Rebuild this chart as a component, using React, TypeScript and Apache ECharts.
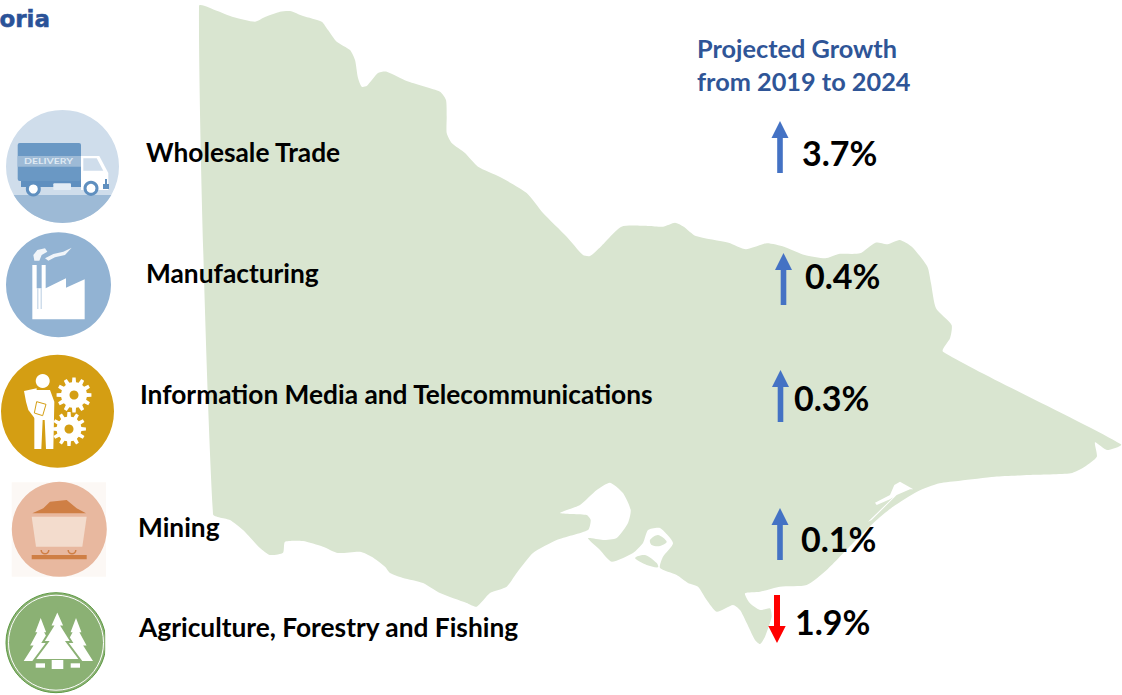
import React, { useEffect, useRef } from "react";
import * as echarts from "echarts";

const categories = [
  "Wholesale Trade",
  "Manufacturing",
  "Information Media and Telecommunications",
  "Mining",
  "Agriculture, Forestry and Fishing",
];
const growthValues = [3.7, 0.4, 0.3, 0.1, -1.9];
const titleLines = ["Projected Growth", "from 2019 to 2024"];
const clippedHeading = "oria";

// layout (not data)
const labelX = [146, 146, 140, 138, 139];
const labelY = [152, 273, 394, 527, 627];
const arrowX = [780, 783.5, 780.5, 780, 777];
const arrowTop = [121, 253, 370, 508, 595];
const arrowBottom = [173, 305, 422, 560, 643];
const valueX = [802, 805, 794, 801, 795];
const valueY = [152, 275, 397, 538, 621];

const FONT = "Lato, 'Noto Sans', sans-serif";
const MAP = "#d9e5d0";

const mapOutline: number[][] = [
  [199, 6], [216.7, 10.7], [233, 17], [255, 21.7], [265, 17], [280, 11.7], [290, 11], [303, 16], [321.7, 21.7],
  [328, 30], [336.7, 41.7], [350, 50], [355, 60], [358, 78], [361.7, 86.7], [366.7, 86], [378, 73], [386.7, 71.7],
  [406.7, 81], [440, 91.7], [446, 100], [446.7, 116.7], [446.7, 133], [451.7, 143], [465, 153], [478, 166.7],
  [500, 177], [526.7, 193], [543, 213], [566.7, 236.7], [583, 255], [590, 256], [600.7, 246.7], [621.5, 226.7],
  [649, 226], [663, 226.7], [675, 222.7], [683.7, 226.7], [695.8, 236], [728.6, 242.7], [746, 249.3], [766.7, 243.3],
  [784, 246.7], [804.7, 255], [825.4, 258.3], [839, 254], [860, 253.3], [875.5, 242.7], [887.6, 244.3], [899.7, 240],
  [911.8, 246.7], [927.4, 266.7], [931, 283.3], [936, 308.3], [951.6, 325], [950, 338.3], [943, 351.7], [1121, 444.3],
  [1107, 450], [1095, 442.3], [1096.8, 456.7], [1084.7, 466.7], [1070.8, 473.3], [1029, 475], [994.8, 476.7],
  [960, 480.7], [939.5, 483.3], [917, 491.7], [893, 506.7], [876.7, 520], [853, 543], [826.7, 570], [806.7, 585],
  [780, 586.7], [760, 591.7], [745, 593.3], [750, 603.3], [760, 610], [770, 608.3], [771.7, 616.7], [765, 636.7],
  [760, 644], [755, 640], [746.7, 623], [740, 610], [733, 605], [716.7, 611.7], [706.7, 600], [698, 586.7], [688, 583],
  [676.7, 575], [660, 568], [663, 556.7], [673, 543], [660, 528], [648, 530], [643, 543], [633, 553], [611.7, 561.7],
  [600, 550], [588, 538.3], [603, 540], [616.7, 538], [628, 523], [630.7, 510], [623, 493], [610, 482.7], [596.7, 490],
  [580, 505], [560, 513], [586.7, 515], [590.7, 520], [588, 530], [556.7, 540], [533, 553], [516.7, 573], [506.7, 586.7],
  [490, 593], [476.7, 606.7], [466.7, 603], [440, 593], [423, 583], [403, 578], [390, 573], [385, 566.7], [371.7, 556.7],
  [360, 551.7], [338, 553], [323, 546.7], [303, 541], [285, 541.7], [283, 552.7], [270, 555], [260, 548], [243, 530],
  [230, 520], [213, 514],
];
const frenchIsland = [[650, 540], [658, 535], [666.7, 541.7], [660, 546], [651.7, 545]];
const phillipIsland = [[635, 558], [645, 555], [656.7, 563], [658, 567.3], [646.7, 565]];
const gippslandLakes = [
  [913.3, 489.3], [900, 481.7], [894.3, 485], [890, 495], [875, 502.7], [876.7, 505], [890, 499.3], [893.3, 497.3],
  [868, 521.7], [871.7, 520], [896.7, 495], [910, 489.3],
];

const poly = (pts: number[][], fill: string, extra: any = {}, smooth = 0) => ({
  type: "polygon",
  silent: true,
  shape: { points: pts, smooth },
  style: { fill, ...extra },
});
// zoomed-crop coordinates (3x) to page coordinates
const Z = (pts: number[][], oy = 0) => pts.map(([x, y]) => [x / 3, y / 3 + oy]);
const circle = (cx: number, cy: number, r: number, fill: string, extra: any = {}) => ({
  type: "circle",
  silent: true,
  shape: { cx, cy, r },
  style: { fill, ...extra },
});
const rect = (x: number, y: number, w: number, h: number, fill: string, r = 0) => ({
  type: "rect",
  silent: true,
  shape: { x, y, width: w, height: h, r },
  style: { fill },
});
const chordBelow = (cx: number, cy: number, r: number, yCut: number) => {
  const a0 = Math.asin((yCut - cy) / r);
  const pts: number[][] = [];
  for (let i = 0; i <= 40; i++) {
    const a = a0 + ((Math.PI - 2 * a0) * i) / 40;
    pts.push([cx + r * Math.cos(a), cy + r * Math.sin(a)]);
  }
  return pts;
};
const gear = (cx: number, cy: number, rOut: number, rIn: number, teeth: number) => {
  const pts: number[][] = [];
  for (let i = 0; i < teeth; i++) {
    const s = (Math.PI * 2) / teeth;
    const a = i * s;
    [[-0.3, rIn], [-0.18, rOut], [0.18, rOut], [0.3, rIn]].forEach(([f, r]) => {
      pts.push([cx + r * Math.cos(a + f * s), cy + r * Math.sin(a + f * s)]);
    });
  }
  return pts;
};

const truckIcon = () => [
  circle(62.5, 166.4, 56.5, "#cfddeb"),
  poly(chordBelow(62.5, 166.4, 56.5, 195), "#9dbad6"),
  rect(21, 178, 60, 9, "#5f8fbf"),
  rect(17.7, 143, 63.3, 38, "#6a98c4", 2),
  rect(17.7, 156, 63.3, 10.7, "#9dbad6"),
  {
    type: "text",
    silent: true,
    x: 24,
    y: 161.5,
    scaleX: 1.5,
    style: { text: "DELIVERY", fill: "#dfe9f3", font: `bold 7px ${FONT}`, verticalAlign: "middle", align: "left" },
  },
  poly([[81, 156], [99.3, 156], [108.3, 173], [108.3, 190], [81, 190]], "#ffffff"),
  poly([[83.3, 158.3], [96.7, 158.3], [103.3, 170.7], [83.3, 170.7]], "#cfddeb"),
  rect(53.3, 183.3, 17.7, 6.7, "#e3ecf5", 1),
  circle(33.3, 189, 6, "#ffffff", { stroke: "#5f8fbf", lineWidth: 3 }),
  circle(91, 188.3, 6, "#ffffff", { stroke: "#5f8fbf", lineWidth: 3 }),
  rect(103, 184, 6, 5, "#5f8fbf"),
  rect(105, 179, 2, 5, "#5f8fbf"),
];

const factoryIcon = () => [
  circle(58.5, 284.8, 52.5, "#92b3d3"),
  poly(
    Z([[97, 958], [254, 958], [254, 838], [198, 863], [198, 835], [137, 865], [137, 795], [125, 795], [125, 865], [110, 865], [110, 795], [97, 795]]),
    "#ffffff"
  ),
  rect(37, 288, 1.5, 21, "#cfddeb"),
  rect(40.5, 288, 1.5, 21, "#cfddeb"),
  poly(Z([[100, 765], [112, 750], [135, 745], [142, 755], [125, 765], [118, 782], [103, 782]]), "#f1f5f9"),
  poly(Z([[135, 775], [160, 762], [190, 755], [215, 743], [195, 765], [165, 772], [145, 782]]), "#f1f5f9"),
];

const infoIcon = () => [
  circle(57.5, 411.3, 56.5, "#d49e13"),
  circle(42.7, 381, 7, "#ffffff"),
  poly(
    Z([[105, 135], [150, 135], [163, 170], [160, 312], [138, 312], [134, 225], [128, 225], [124, 312], [103, 312], [103, 225]], 345),
    "#ffffff"
  ),
  poly(Z([[72, 138], [110, 130], [108, 225], [85, 195], [78, 170]], 345), "#ffffff"),
  poly(Z([[110, 170], [138, 178], [128, 212], [103, 204]], 345), "#ffffff", { stroke: "#d49e13", lineWidth: 1 }),
  poly(gear(74, 395, 17.5, 13, 12), "#ffffff"),
  circle(74, 395, 4.5, "#d49e13"),
  poly(gear(69, 429, 17, 12.5, 12), "#ffffff"),
  circle(69, 429, 4.5, "#d49e13"),
];

const miningIcon = () => [
  rect(11.7, 482.3, 94.3, 94.4, "#fcf8f5"),
  circle(59.3, 529.3, 47.5, "#e8b89f"),
  poly(Z([[97, 505], [130, 490], [150, 470], [200, 465], [230, 490], [258, 505]], 345), "#cf7f45"),
  poly(Z([[95, 515], [260, 515], [247, 605], [108, 605]], 345), "#f3dccd"),
  {
    type: "arc",
    silent: true,
    shape: { cx: 45, cy: 550, r: 3.8, startAngle: 0, endAngle: Math.PI, clockwise: true },
    style: { stroke: "#cf7f45", lineWidth: 1.5, fill: "none" },
  },
  {
    type: "arc",
    silent: true,
    shape: { cx: 72, cy: 550, r: 3.8, startAngle: 0, endAngle: Math.PI, clockwise: true },
    style: { stroke: "#cf7f45", lineWidth: 1.5, fill: "none" },
  },
  rect(31.7, 555, 55, 4.3, "#cf7f45"),
];

const treeShape = (tip: number[], halfW: number, h: number) => {
  const [x, y] = tip;
  const rows = [
    [0.32, 0.33], [0.2, 0.33], [0.62, 0.64], [0.42, 0.64], [1, 1],
  ];
  const right = rows.map(([w, t]) => [x + w * halfW, y + t * h]);
  const left = rows.slice().reverse().map(([w, t]) => [x - w * halfW, y + t * h]);
  return [[x, y], ...right, ...left];
};

const forestIcon = () => [
  circle(56, 642.7, 50, "#8bb174", { stroke: "#5e9a44", lineWidth: 1 }),
  circle(56, 642.7, 47.5, "none", { stroke: "#ffffff", lineWidth: 1 }),
  poly(treeShape([40.7, 618], 17, 43), "#ffffff"),
  poly(treeShape([76, 618], 17, 43), "#ffffff"),
  poly(treeShape([57.3, 610], 23, 50), "#ffffff", { stroke: "#8bb174", lineWidth: 2 }),
  rect(51.7, 660, 11.6, 9, "#ffffff"),
  rect(35.7, 663.3, 9.3, 4.4, "#ffffff"),
  rect(70.7, 663.3, 9.3, 4.4, "#ffffff"),
  rect(105.2, 600, 4, 90, "#ffffff"),
];

export default function App() {
  const ref = useRef<HTMLDivElement>(null);
  useEffect(() => {
    document.body.style.margin = "0";
    const chart = echarts.init(ref.current!, undefined, { renderer: "svg" });

    const labelsAndValues = {
      type: "custom",
      coordinateSystem: "none",
      silent: true,
      data: growthValues.map((v) => [v]),
      renderItem: (params: any, api: any) => {
        const i = params.dataIndex;
        const v = api.value(0) as number;
        const up = v >= 0;
        const x = arrowX[i];
        const top = arrowTop[i];
        const bot = arrowBottom[i];
        const color = up ? "#4472c4" : "#ff0000";
        const arrow = up
          ? [[x, top], [x + 8.5, top + 17], [x + 2.8, top + 17], [x + 2.8, bot], [x - 2.8, bot], [x - 2.8, top + 17], [x - 8.5, top + 17]]
          : [[x, bot], [x + 8.7, bot - 17], [x + 3, bot - 17], [x + 3, top], [x - 3, top], [x - 3, bot - 17], [x - 8.7, bot - 17]];
        return {
          type: "group",
          children: [
            { type: "polygon", shape: { points: arrow }, style: { fill: color } },
            {
              type: "text",
              x: valueX[i],
              y: valueY[i],
              style: {
                text: `${Math.abs(v).toFixed(1)}%`,
                fill: "#000000",
                font: `bold 34px ${FONT}`,
                align: "left",
                verticalAlign: "middle",
              },
            },
            {
              type: "text",
              x: labelX[i],
              y: labelY[i],
              style: {
                text: categories[i],
                fill: "#000000",
                font: `bold 26.3px ${FONT}`,
                align: "left",
                verticalAlign: "middle",
              },
            },
          ],
        };
      },
    };

    chart.setOption({
      animation: false,
      backgroundColor: "#ffffff",
      series: [labelsAndValues],
      graphic: {
        elements: [
          poly(mapOutline, MAP, {}, 0.2),
          poly(gippslandLakes, "#ffffff"),
          poly(frenchIsland, MAP, {}, 0.3),
          poly(phillipIsland, MAP, {}, 0.3),
          ...truckIcon(),
          ...factoryIcon(),
          ...infoIcon(),
          ...miningIcon(),
          ...forestIcon(),
          {
            type: "text",
            silent: true,
            x: 50,
            y: 19,
            style: {
              text: clippedHeading,
              fill: "#2a5298",
              stroke: "#2a5298",
              lineWidth: 0.5,
              font: "bold 23px 'DejaVu Sans', sans-serif",
              align: "right",
              verticalAlign: "middle",
            },
          },
          ...titleLines.map((t, i) => ({
            type: "text",
            silent: true,
            x: 697,
            y: 47.5 + i * 33.5,
            style: {
              text: t,
              fill: "#2f5597",
              font: `bold 25.3px ${FONT}`,
              align: "left",
              verticalAlign: "middle",
            },
          })),
        ],
      },
    });
    return () => chart.dispose();
  }, []);
  return (
    <div
      ref={ref}
      style={{ width: 1122, height: 695, overflow: "hidden", fontVariantLigatures: "none", fontKerning: "normal" }}
    />
  );
}
